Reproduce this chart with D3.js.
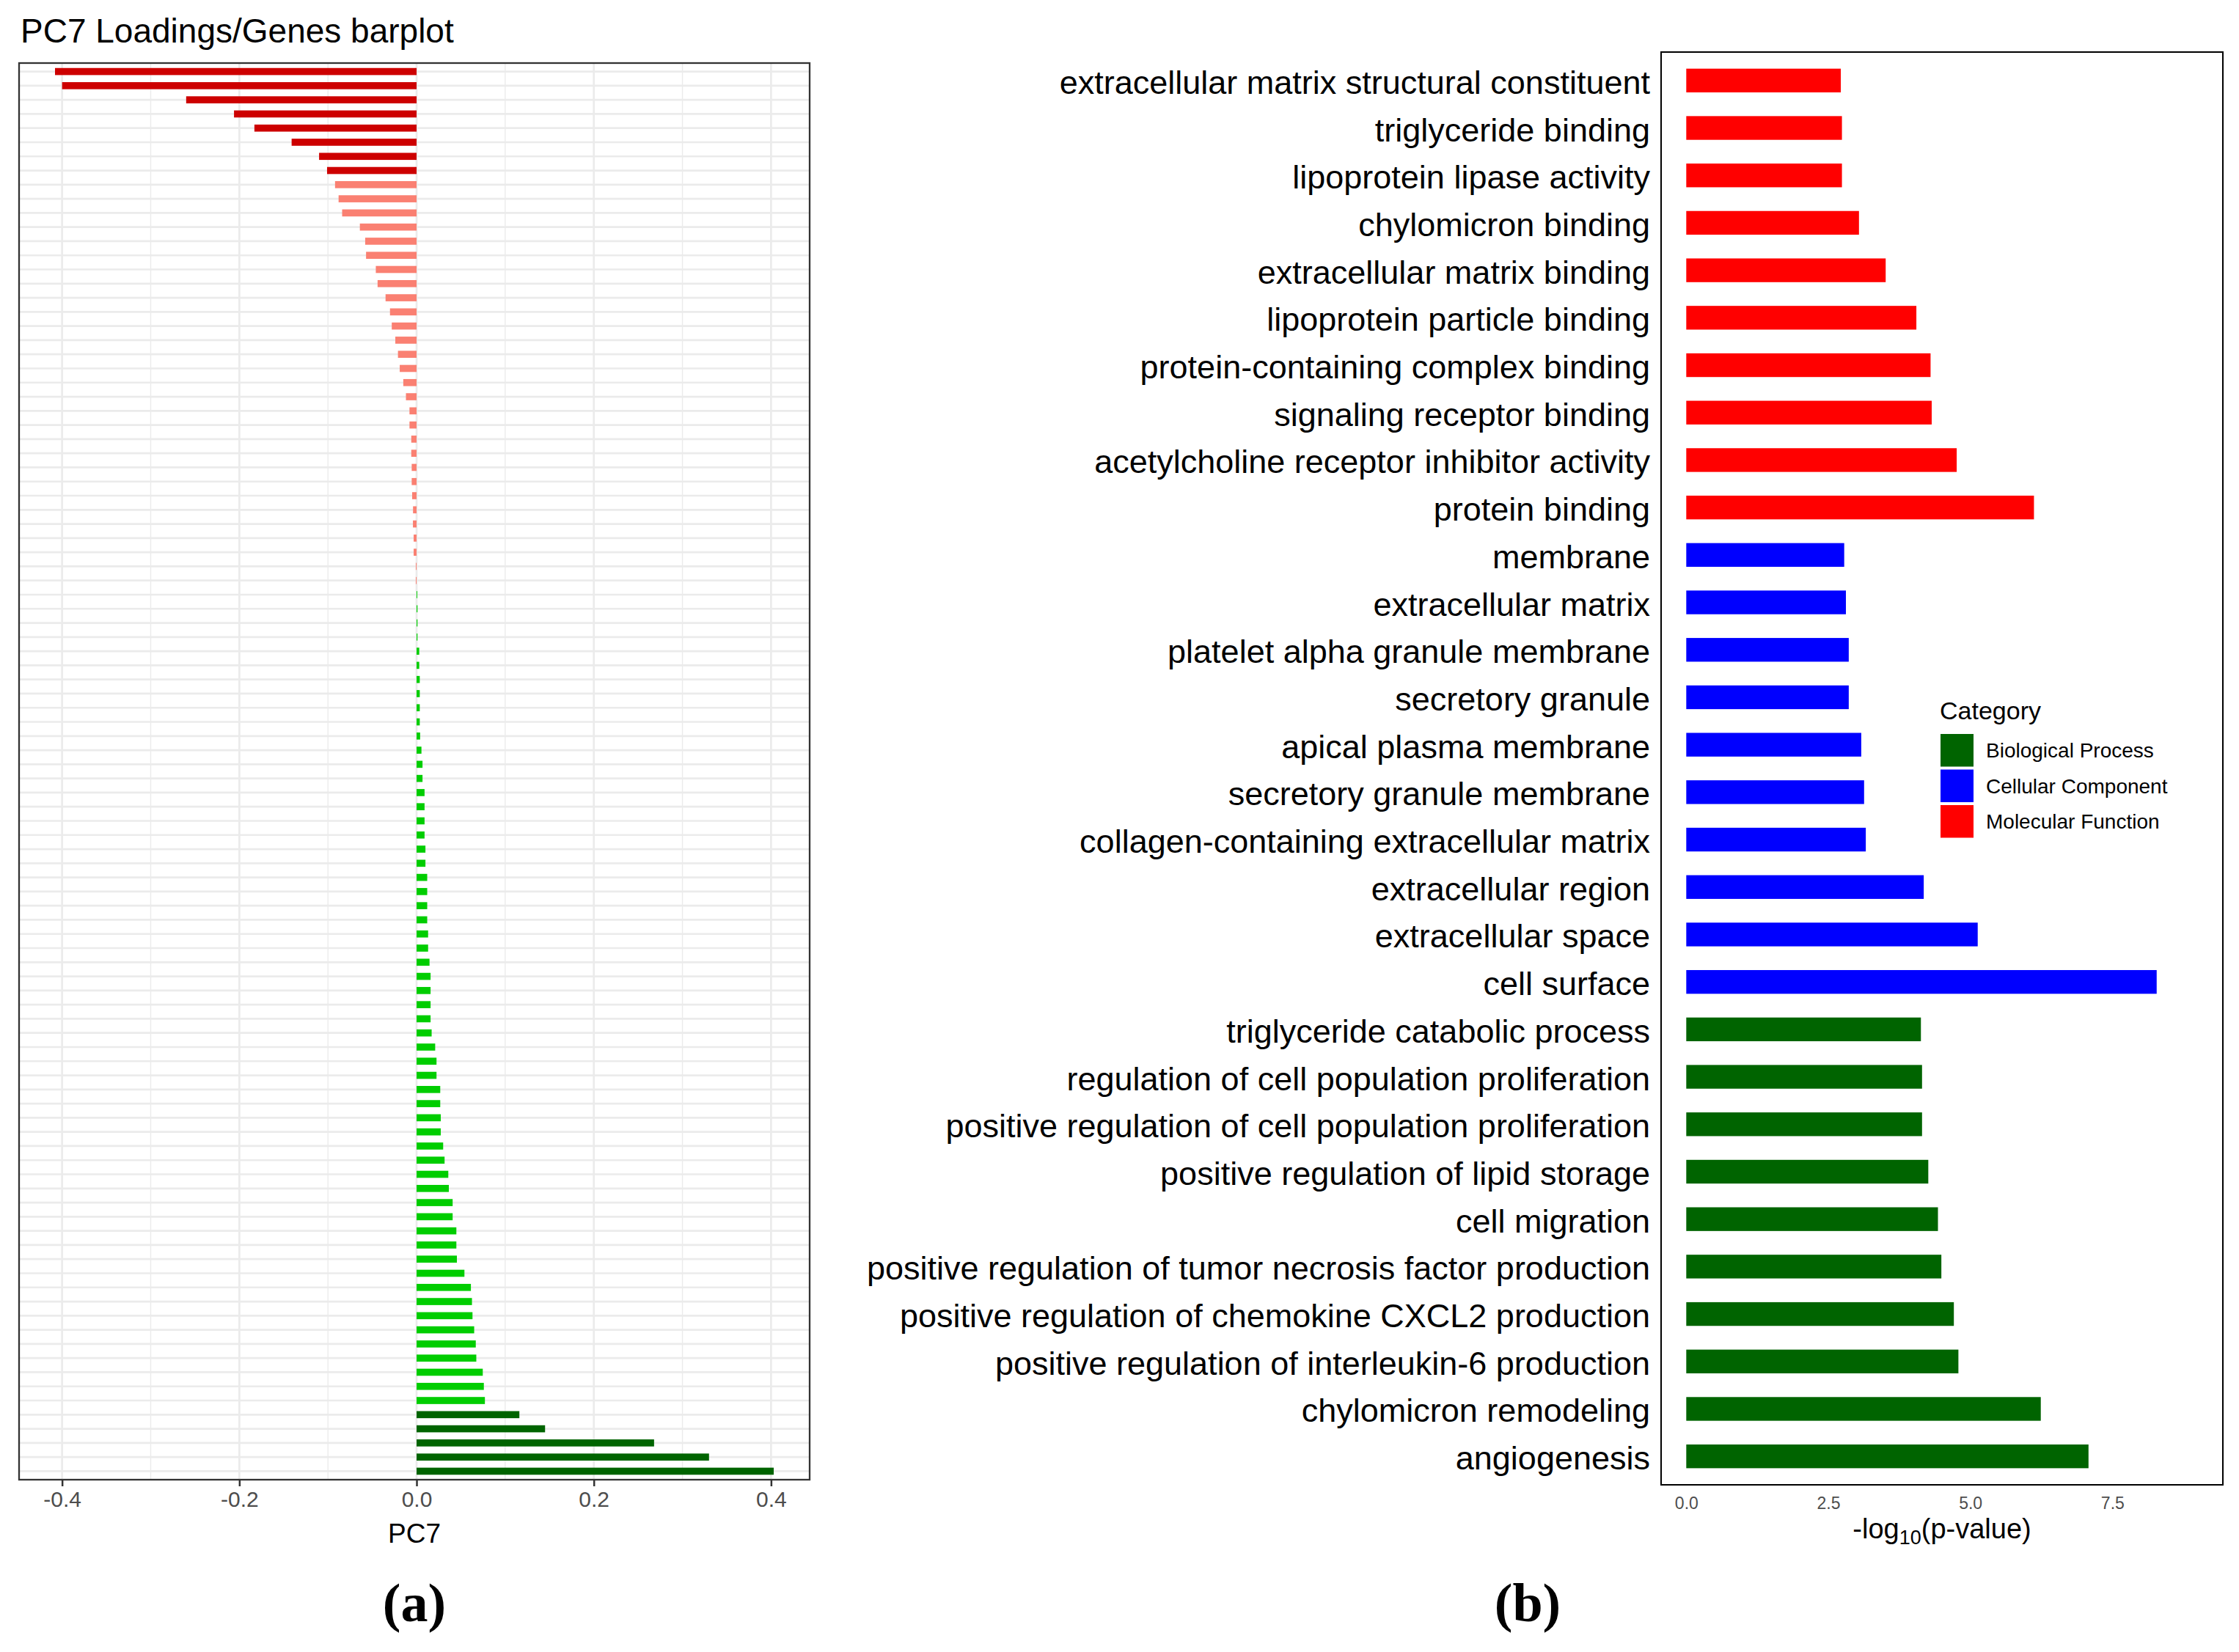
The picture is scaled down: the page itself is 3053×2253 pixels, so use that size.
<!DOCTYPE html>
<html>
<head>
<meta charset="utf-8">
<script src="https://cdn.jsdelivr.net/npm/d3@7"></script>
<style>
    body { margin: 0; background: #fff; }
    svg { display: block; font-family: "Liberation Sans", Arial, sans-serif; }
</style>
</head>
<body>
<div id="figure"></div>
<script>

// panel (a): PC7 loadings, top to bottom
var pc7Loadings = [
    -0.408, -0.400, -0.260, -0.206, -0.183, -0.141, -0.110, -0.101,
    -0.092, -0.088, -0.084, -0.064, -0.058, -0.057, -0.046, -0.044, -0.035, -0.030, -0.028, -0.024,
    -0.021, -0.019, -0.015, -0.012, -0.008, -0.008, -0.006, -0.006, -0.0055, -0.0055,
    -0.005, -0.004, -0.0041, -0.0033, -0.0033, -0.0008, -0.0008,
    0.0008, 0.001, 0.001, 0.001, 0.003, 0.003, 0.0036, 0.0036, 0.0036, 0.0036, 0.004, 0.0055, 0.0067, 0.0067,
    0.009, 0.009, 0.009, 0.009, 0.010, 0.010, 0.012, 0.012, 0.012, 0.012, 0.013, 0.013, 0.0146,
    0.0158, 0.0158, 0.0158, 0.0158,
    0.017, 0.021, 0.0225, 0.0225, 0.0267, 0.0267, 0.0273, 0.0273, 0.030, 0.0316, 0.0358, 0.0364,
    0.0407, 0.0407, 0.0449, 0.0449, 0.0455, 0.054, 0.0613, 0.0625, 0.0631, 0.065, 0.0668, 0.0674,
    0.0747, 0.0759, 0.0771,
    0.116, 0.145, 0.268, 0.330, 0.403
];
var pc7Ticks = [-0.4, -0.2, 0.0, 0.2, 0.4];
var pc7MinorTicks = [-0.3, -0.1, 0.1, 0.3];

// panel (b): GO enrichment, top to bottom
var goTerms = [
    "extracellular matrix structural constituent",
    "triglyceride binding",
    "lipoprotein lipase activity",
    "chylomicron binding",
    "extracellular matrix binding",
    "lipoprotein particle binding",
    "protein-containing complex binding",
    "signaling receptor binding",
    "acetylcholine receptor inhibitor activity",
    "protein binding",
    "membrane",
    "extracellular matrix",
    "platelet alpha granule membrane",
    "secretory granule",
    "apical plasma membrane",
    "secretory granule membrane",
    "collagen-containing extracellular matrix",
    "extracellular region",
    "extracellular space",
    "cell surface",
    "triglyceride catabolic process",
    "regulation of cell population proliferation",
    "positive regulation of cell population proliferation",
    "positive regulation of lipid storage",
    "cell migration",
    "positive regulation of tumor necrosis factor production",
    "positive regulation of chemokine CXCL2 production",
    "positive regulation of interleukin-6 production",
    "chylomicron remodeling",
    "angiogenesis"
];
var goScores = [
    2.72, 2.74, 2.74, 3.04, 3.51, 4.05, 4.30, 4.32, 4.76, 6.12,
    2.78, 2.81, 2.86, 2.86, 3.08, 3.13, 3.16, 4.18, 5.13, 8.28,
    4.13, 4.15, 4.15, 4.26, 4.43, 4.49, 4.71, 4.79, 6.24, 7.08
];
var goCategory = [
    "MF", "MF", "MF", "MF", "MF", "MF", "MF", "MF", "MF", "MF",
    "CC", "CC", "CC", "CC", "CC", "CC", "CC", "CC", "CC", "CC",
    "BP", "BP", "BP", "BP", "BP", "BP", "BP", "BP", "BP", "BP"
];
var goTicks = [0, 2.5, 5.0, 7.5];
var legendKeys = ["BP", "CC", "MF"];
var legendNames = ["Biological Process", "Cellular Component", "Molecular Function"];

var categoryColor = {BP: "#006400", CC: "#0000FF", MF: "#FF0000"};

var svg = d3.select("#figure").append("svg")
    .attr("width", 3053)
    .attr("height", 2253);

svg.append("rect").attr("width", 3053).attr("height", 2253).attr("fill", "#fff");

drawLoadings(svg);
drawEnrichment(svg);

/***********************************************************************************************************/

function loadingColor(v) {
    if (v <= -0.1) return "#CD0000";
    if (v < 0) return "#FA8072";
    if (v < 0.1) return "#00CD00";
    return "#006400";
}

function drawLoadings(svg) {
    var left = 26, right = 1104, top = 86, bottom = 2018;
    var g = svg.append("g");

    var lo = d3.min(pc7Loadings), hi = d3.max(pc7Loadings);
    var pad = (hi - lo) * 0.05;
    var x = d3.scaleLinear().domain([lo - pad, hi + pad]).range([left, right]);
    var y = d3.scalePoint().domain(d3.range(pc7Loadings.length)).range([top, bottom]).padding(0.6);
    var barH = y.step() * 0.5;

    g.append("text")
        .attr("x", 28).attr("y", 58)
        .attr("font-size", 46)
        .attr("fill", "#000")
        .text("PC7 Loadings/Genes barplot");

    // grid
    g.selectAll("line.minor").data(pc7MinorTicks).enter().append("line")
        .attr("x1", function(d){ return x(d); }).attr("x2", function(d){ return x(d); })
        .attr("y1", top).attr("y2", bottom)
        .attr("stroke", "#EBEBEB").attr("stroke-width", 1.4);
    g.selectAll("line.major").data(pc7Ticks).enter().append("line")
        .attr("x1", function(d){ return x(d); }).attr("x2", function(d){ return x(d); })
        .attr("y1", top).attr("y2", bottom)
        .attr("stroke", "#EBEBEB").attr("stroke-width", 2.7);
    g.selectAll("line.hgrid").data(y.domain()).enter().append("line")
        .attr("x1", left).attr("x2", right)
        .attr("y1", function(d){ return y(d); }).attr("y2", function(d){ return y(d); })
        .attr("stroke", "#EBEBEB").attr("stroke-width", 2.7);

    g.selectAll("rect.bar").data(pc7Loadings).enter().append("rect")
        .attr("x", function(d){ return x(Math.min(0, d)); })
        .attr("width", function(d){ return Math.abs(x(d) - x(0)); })
        .attr("y", function(d, i){ return y(i) - barH / 2; })
        .attr("height", barH)
        .attr("fill", function(d){ return loadingColor(d); });

    g.append("rect")
        .attr("x", left).attr("y", top)
        .attr("width", right - left).attr("height", bottom - top)
        .attr("fill", "none").attr("stroke", "#333333").attr("stroke-width", 2.3);

    var axis = g.append("g")
        .attr("transform", "translate(0," + bottom + ")")
        .call(d3.axisBottom(x).tickValues(pc7Ticks).tickFormat(d3.format(".1f"))
            .tickSize(9).tickPadding(7));
    axis.select(".domain").remove();
    axis.selectAll(".tick line").attr("stroke", "#333333").attr("stroke-width", 2.5);
    axis.selectAll(".tick text")
        .attr("font-size", 30)
        .attr("font-family", "Liberation Sans, Arial, sans-serif")
        .attr("fill", "#4D4D4D")
        .text(function(d){ return d3.format(".1f")(d).replace("−", "-"); });

    g.append("text")
        .attr("x", (left + right) / 2).attr("y", 2104)
        .attr("text-anchor", "middle")
        .attr("font-size", 37)
        .attr("fill", "#000")
        .text("PC7");

    g.append("text")
        .attr("x", 565).attr("y", 2211)
        .attr("text-anchor", "middle")
        .attr("font-family", "Liberation Serif, Times New Roman, serif")
        .attr("font-weight", "bold")
        .attr("font-size", 74)
        .text("(a)");
}

/***********************************************************************************************************/

function drawEnrichment(svg) {
    var left = 2265, right = 3031, top = 71, bottom = 2025;
    var g = svg.append("g");

    var x = d3.scaleLinear().domain([-0.443, 9.445]).range([left, right]);
    var y = d3.scalePoint().domain(goTerms).range([top, bottom]).padding(0.6);
    var barH = y.step() * 0.5;

    g.selectAll("rect.bar").data(goTerms).enter().append("rect")
        .attr("x", x(0))
        .attr("width", function(d, i){ return x(goScores[i]) - x(0); })
        .attr("y", function(d){ return y(d) - barH / 2; })
        .attr("height", barH)
        .attr("fill", function(d, i){ return categoryColor[goCategory[i]]; });

    g.append("rect")
        .attr("x", left).attr("y", top)
        .attr("width", right - left).attr("height", bottom - top)
        .attr("fill", "none").attr("stroke", "#000").attr("stroke-width", 2);

    g.selectAll("text.term").data(goTerms).enter().append("text")
        .attr("x", 2250)
        .attr("y", function(d){ return y(d) + 18; })
        .attr("text-anchor", "end")
        .attr("font-size", 45)
        .attr("fill", "#000")
        .text(function(d){ return d; });

    var axis = g.append("g")
        .attr("transform", "translate(0," + bottom + ")")
        .call(d3.axisBottom(x).tickValues(goTicks).tickFormat(d3.format(".1f"))
            .tickSize(0).tickPadding(17));
    axis.select(".domain").remove();
    axis.selectAll(".tick text")
        .attr("font-size", 23)
        .attr("font-family", "Liberation Sans, Arial, sans-serif")
        .attr("fill", "#4D4D4D");

    var title = g.append("text")
        .attr("x", (left + right) / 2).attr("y", 2098)
        .attr("text-anchor", "middle")
        .attr("font-size", 38)
        .attr("fill", "#000");
    title.append("tspan").text("-log");
    title.append("tspan").attr("font-size", 27).attr("dy", 8).text("10");
    title.append("tspan").attr("dy", -8).text("(p-value)");

    // legend
    var legend = g.append("g");
    legend.append("text")
        .attr("x", 2645).attr("y", 981)
        .attr("font-size", 34)
        .attr("fill", "#000")
        .text("Category");

    var item = legend.selectAll("g.item").data(legendKeys).enter().append("g")
        .attr("transform", function(d, i){ return "translate(2646," + (1001 + i * 48.5) + ")"; });
    item.append("rect")
        .attr("width", 45).attr("height", 44.5)
        .attr("fill", function(d){ return categoryColor[d]; });
    item.append("text")
        .attr("x", 62).attr("y", 32)
        .attr("font-size", 28)
        .attr("fill", "#000")
        .text(function(d, i){ return legendNames[i]; });

    g.append("text")
        .attr("x", 2083).attr("y", 2211)
        .attr("text-anchor", "middle")
        .attr("font-family", "Liberation Serif, Times New Roman, serif")
        .attr("font-weight", "bold")
        .attr("font-size", 74)
        .text("(b)");
}

</script>
</body>
</html>
